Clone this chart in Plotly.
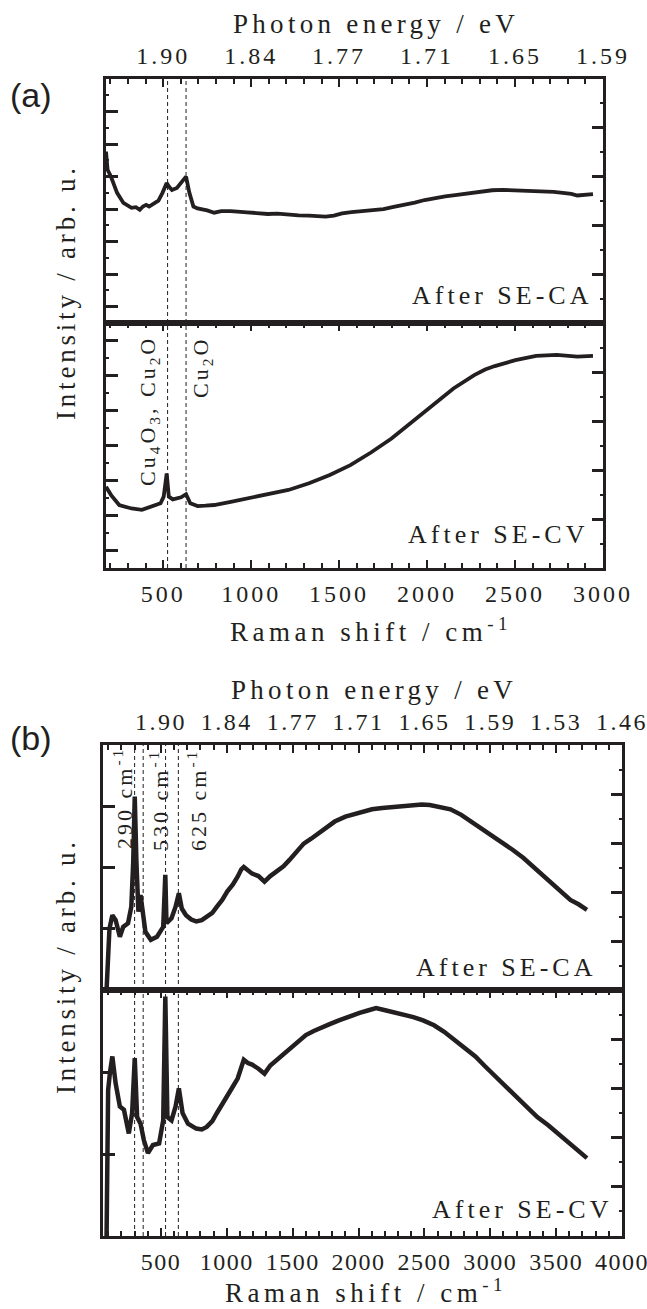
import plotly.graph_objects as go

W, H = 647, 1309

# ---------------- data ----------------
# Panel (a), After SE-CA  (Raman shift cm-1, intensity arb.)
A_CA_X = [175, 184, 203, 238, 274, 300, 320, 345, 367, 385, 403, 420, 438, 455, 473, 496, 520, 535, 550,
          578, 607, 630, 649, 672, 695, 719, 750, 790, 830, 884, 930, 977, 1030, 1095, 1150, 1212, 1270,
          1329, 1380, 1423, 1470, 1517, 1570, 1634, 1690, 1752, 1810, 1869, 1930, 1986, 2040, 2103,
          2160, 2221, 2260, 2315, 2370, 2432, 2490, 2549, 2610, 2667, 2720, 2784, 2820, 2854, 2900, 2943]
A_CA_Y = [5.27, 4.71, 4.50, 4.00, 3.69, 3.62, 3.54, 3.56, 3.48, 3.58, 3.63, 3.58, 3.63, 3.70, 3.76, 4.00,
          4.30, 4.18, 4.09, 4.15, 4.35, 4.50, 4.00, 3.58, 3.52, 3.50, 3.46, 3.39, 3.44, 3.44, 3.41, 3.40,
          3.38, 3.35, 3.36, 3.32, 3.31, 3.30, 3.28, 3.27, 3.30, 3.37, 3.41, 3.44, 3.47, 3.50, 3.57, 3.63,
          3.70, 3.78, 3.84, 3.89, 3.93, 3.97, 4.00, 4.06, 4.08, 4.09, 4.08, 4.07, 4.06, 4.04, 4.03, 3.99,
          3.97, 3.92, 3.95, 3.96]
# Panel (a), After SE-CV
A_CV_X = [175, 203, 250, 320, 379, 438, 485, 503, 515, 520, 532, 555, 602, 630, 654, 696, 740, 790, 884,
          977, 1095, 1212, 1329, 1447, 1564, 1681, 1798, 1916, 2033, 2150, 2268, 2330, 2385, 2502, 2620,
          2737, 2854, 2943]
A_CV_Y = [2.32, 2.09, 1.80, 1.70, 1.66, 1.75, 1.85, 2.04, 2.61, 2.70, 2.04, 1.96, 2.02, 2.11, 1.85, 1.77,
          1.78, 1.80, 1.89, 1.99, 2.09, 2.23, 2.42, 2.66, 2.94, 3.30, 3.70, 4.18, 4.66, 5.13, 5.51, 5.67,
          5.77, 5.94, 6.06, 6.09, 6.04, 6.06]
# Panel (b), After SE-CA
B_CA_X = [87, 99, 109, 131, 156, 188, 213, 250, 275, 289, 301, 314, 329, 345, 360, 382, 423, 470, 517,
          533, 542, 580, 611, 636, 658, 690, 730, 768, 810, 847, 890, 925, 965, 1004, 1045, 1082, 1110,
          1129, 1160, 1192, 1240, 1286, 1330, 1380, 1430, 1474, 1530, 1584, 1640, 1694, 1760, 1819, 1900,
          1976, 2040, 2102, 2180, 2259, 2340, 2416, 2480, 2541, 2620, 2698, 2780, 2855, 2930, 3012, 3090,
          3169, 3250, 3326, 3400, 3483, 3550, 3608, 3670, 3734]
B_CA_Y = [0.0, 0.87, 1.00, 1.22, 1.14, 0.87, 1.03, 1.09, 1.36, 2.07, 3.16, 2.07, 1.28, 1.55, 1.25, 0.95,
          0.82, 0.87, 1.03, 1.88, 1.09, 1.17, 1.36, 1.58, 1.33, 1.22, 1.15, 1.12, 1.14, 1.20, 1.26, 1.36,
          1.47, 1.61, 1.72, 1.85, 1.97, 2.01, 1.95, 1.90, 1.86, 1.77, 1.86, 1.93, 2.02, 2.12, 2.26, 2.39,
          2.47, 2.56, 2.66, 2.75, 2.83, 2.88, 2.92, 2.95, 2.97, 2.99, 3.01, 3.02, 3.03, 3.02, 2.99, 2.95,
          2.86, 2.75, 2.65, 2.53, 2.42, 2.29, 2.16, 2.01, 1.87, 1.71, 1.58, 1.47, 1.40, 1.31]
# Panel (b), After SE-CV
B_CV_X = [87, 99, 112, 131, 156, 188, 219, 256, 281, 301, 319, 345, 370, 401, 439, 486, 517, 533, 549,
          580, 611, 636, 664, 705, 768, 810, 847, 890, 925, 965, 1004, 1045, 1082, 1110, 1129, 1160, 1192,
          1240, 1286, 1330, 1380, 1430, 1474, 1540, 1600, 1660, 1725, 1790, 1851, 1930, 2008, 2070, 2133,
          2210, 2290, 2350, 2416, 2490, 2573, 2650, 2730, 2810, 2887, 2960, 3044, 3120, 3200, 3280, 3357,
          3440, 3514, 3590, 3671, 3734]
B_CV_Y = [0.0, 1.78, 1.98, 2.19, 1.86, 1.58, 1.54, 1.25, 1.50, 2.17, 1.45, 1.37, 1.17, 1.01, 1.11, 1.13,
          1.41, 2.92, 1.45, 1.41, 1.58, 1.80, 1.50, 1.37, 1.31, 1.30, 1.33, 1.40, 1.50, 1.60, 1.70, 1.82,
          1.92, 2.08, 2.15, 2.11, 2.09, 2.04, 1.98, 2.08, 2.15, 2.22, 2.29, 2.38, 2.45, 2.50, 2.55, 2.59,
          2.63, 2.68, 2.72, 2.75, 2.78, 2.75, 2.72, 2.70, 2.67, 2.63, 2.57, 2.49, 2.39, 2.29, 2.19, 2.07,
          1.94, 1.81, 1.68, 1.56, 1.45, 1.35, 1.25, 1.15, 1.05, 0.95]

A_DASH = [525, 630]
B_DASH = [300, 365, 535, 632]

A_TICKS = [500, 1000, 1500, 2000, 2500, 3000]
A_EV = ["1.90", "1.84", "1.77", "1.71", "1.65", "1.59"]
B_TICKS = [500, 1000, 1500, 2000, 2500, 3000, 3500, 4000]
B_EV = ["1.90", "1.84", "1.77", "1.71", "1.65", "1.59", "1.53", "1.46"]

# ---------------- helpers ----------------
def fx(px):
    return px / W

def fy(py):
    return 1 - py / H

def sp(text, ls):
    return f'<span style="letter-spacing:{ls}px">{text}</span>'

SERIF = "Liberation Serif"
SANS = "Liberation Sans"
INK = "#231f20"
TICKFONT = dict(family=SERIF, size=24, color=INK)
LW = 2.5

# geometry (pixels)
A_L, A_R, A_T, A_M, A_B = 106, 603, 79, 323, 568
B_L, B_R, B_T, B_M, B_B = 103, 622, 745, 990, 1236

fig = go.Figure()
fig.add_trace(go.Scatter(x=A_CA_X, y=A_CA_Y, xaxis="x", yaxis="y", mode="lines",
                         line=dict(color=INK, width=3.8), showlegend=False))
fig.add_trace(go.Scatter(x=A_CV_X, y=A_CV_Y, xaxis="x2", yaxis="y2", mode="lines",
                         line=dict(color=INK, width=3.8), showlegend=False))
fig.add_trace(go.Scatter(x=B_CA_X, y=B_CA_Y, xaxis="x3", yaxis="y3", mode="lines",
                         line=dict(color=INK, width=4.5), showlegend=False))
fig.add_trace(go.Scatter(x=B_CV_X, y=B_CV_Y, xaxis="x4", yaxis="y4", mode="lines",
                         line=dict(color=INK, width=4.5), showlegend=False))
# empty traces to register right-hand axes
for xa, ya in [("x", "y5"), ("x2", "y6"), ("x3", "y7"), ("x4", "y8")]:
    fig.add_trace(go.Scatter(x=[], y=[], xaxis=xa, yaxis=ya, showlegend=False))


def top_x(dom, rng, tv, tt, anchor, ls):
    return dict(domain=dom, range=rng, anchor=anchor, side="top", showline=True, mirror=True,
                linecolor=INK, linewidth=LW, ticks="inside", ticklen=8, tickwidth=2, tickcolor=INK,
                tickvals=tv, ticktext=[sp(t, ls) for t in tt], tickfont=TICKFONT, showgrid=False,
                zeroline=False, ticklabelstandoff=3, tickangle=0, automargin=False,
                ticklabeloverflow="allow",
                minor=dict(dtick=100, tick0=0, ticks="inside", ticklen=5, tickwidth=2, tickcolor=INK,
                           showgrid=False))


def bot_x(dom, rng, tv, anchor, ls):
    return dict(domain=dom, range=rng, anchor=anchor, side="bottom", showline=True, mirror="ticks",
                linecolor=INK, linewidth=LW, ticks="inside", ticklen=8, tickwidth=2, tickcolor=INK,
                tickvals=tv, ticktext=[sp(str(v), ls) for v in tv], tickfont=TICKFONT, showgrid=False,
                zeroline=False, ticklabelstandoff=2, tickangle=0, automargin=False,
                ticklabeloverflow="allow",
                minor=dict(dtick=100, tick0=0, ticks="inside", ticklen=5, tickwidth=2, tickcolor=INK,
                           showgrid=False))


def left_y(dom, rng, tick0, anchor, minor=True):
    d = dict(domain=dom, range=rng, anchor=anchor, showline=True, linecolor=INK, linewidth=LW,
             ticks="inside", ticklen=12, tickwidth=2.5, tickcolor=INK, tick0=tick0, dtick=1,
             showticklabels=False, showgrid=False, zeroline=False, automargin=False)
    if minor:
        d["minor"] = dict(tick0=0, dtick=1, ticks="inside", ticklen=3, tickwidth=2, tickcolor=INK,
                          showgrid=False)
    return d


def right_y(over, anchor):
    return dict(overlaying=over, anchor=anchor, side="right", range=[0, 5], showline=True,
                linecolor=INK, linewidth=LW, ticks="inside", ticklen=11, tickwidth=2.5,
                tickcolor=INK, tick0=0, dtick=1, showticklabels=False, showgrid=False,
                zeroline=False, automargin=False,
                minor=dict(tick0=0, dtick=0.5, ticks="inside", ticklen=3, tickwidth=2,
                           tickcolor=INK, showgrid=False))


A_XR = [175, 3000]
B_XR = [60, 4000]
fig.update_layout(
    xaxis=top_x([fx(A_L), fx(A_R)], A_XR, A_TICKS, A_EV, "y", 3),
    xaxis2=bot_x([fx(A_L), fx(A_R)], A_XR, A_TICKS, "y2", 3),
    xaxis3=top_x([fx(B_L), fx(B_R)], B_XR, B_TICKS, B_EV, "y3", 2.5),
    xaxis4=bot_x([fx(B_L), fx(B_R)], B_XR, B_TICKS, "y4", 1.5),
    yaxis=left_y([fy(A_M), fy(A_T)], [0, 7.5], 0.5, "x"),
    yaxis2=left_y([fy(A_B), fy(A_M)], [0, 7.0], 0.5, "x2"),
    yaxis3=left_y([fy(B_M), fy(B_T)], [0, 4.0], 0, "x3", minor=False),
    yaxis4=left_y([fy(B_B), fy(B_M)], [0, 3.0], 0, "x4", minor=False),
    yaxis5=right_y("y", "x"),
    yaxis6=right_y("y2", "x2"),
    yaxis7=right_y("y3", "x3"),
    yaxis8=right_y("y4", "x4"),
)

# dashed marker lines
shapes = []
for v in A_DASH:
    shapes.append(dict(type="line", xref="x2", yref="paper", x0=v, x1=v, y0=fy(A_B), y1=fy(A_T),
                       line=dict(color=INK, width=1, dash="4px,3px")))
for v in B_DASH:
    shapes.append(dict(type="line", xref="x4", yref="paper", x0=v, x1=v, y0=fy(B_B), y1=fy(B_T),
                       line=dict(color=INK, width=1, dash="4px,3px")))

ann = []
def text(px, py, t, size=27, family=SERIF, angle=0, xa="center", ya="middle"):
    ann.append(dict(x=fx(px), y=fy(py), xref="paper", yref="paper", text=t, showarrow=False,
                    textangle=angle, xanchor=xa, yanchor=ya,
                    font=dict(family=family, size=size, color=INK)))

text(31, 95, "(a)", size=34, family=SANS)
text(31, 738, "(b)", size=34, family=SANS)
text(376, 24, sp("Photon energy / eV", 4.3))
text(374, 690, sp("Photon energy / eV", 4.3))
text(371, 630, sp("Raman shift / cm<sup>-1</sup>", 4.5))
text(366, 1291, sp("Raman shift / cm<sup>-1</sup>", 4.5))
text(66, 292, sp("Intensity / arb. u.", 3.8), angle=-90)
text(66, 966, sp("Intensity / arb. u.", 3.8), angle=-90)
text(594, 295, sp("After SE-CA", 4), size=26, xa="right")
text(590, 535, sp("After SE-CV", 4), size=26, xa="right")
text(598, 967, sp("After SE-CA", 4), size=26, xa="right")
text(614, 1209, sp("After SE-CV", 4), size=26, xa="right")
text(149, 411, sp("Cu<sub>4</sub>O<sub>3</sub>, Cu<sub>2</sub>O", 3), size=22, angle=-90)
text(202, 368, sp("Cu<sub>2</sub>O", 3), size=22, angle=-90)
text(123, 798, sp("290 cm<sup>-1</sup>", 3), size=22, angle=-90)
text(159, 800, sp("530 cm<sup>-1</sup>", 3), size=22, angle=-90)
text(197, 800, sp("625 cm<sup>-1</sup>", 3), size=22, angle=-90)

fig.update_layout(width=W, height=H, margin=dict(l=0, r=0, t=0, b=0, autoexpand=False),
                  paper_bgcolor="white", plot_bgcolor="white", shapes=shapes, annotations=ann,
                  showlegend=False, font=dict(family=SERIF, color=INK))

fig.write_html("out.html")
